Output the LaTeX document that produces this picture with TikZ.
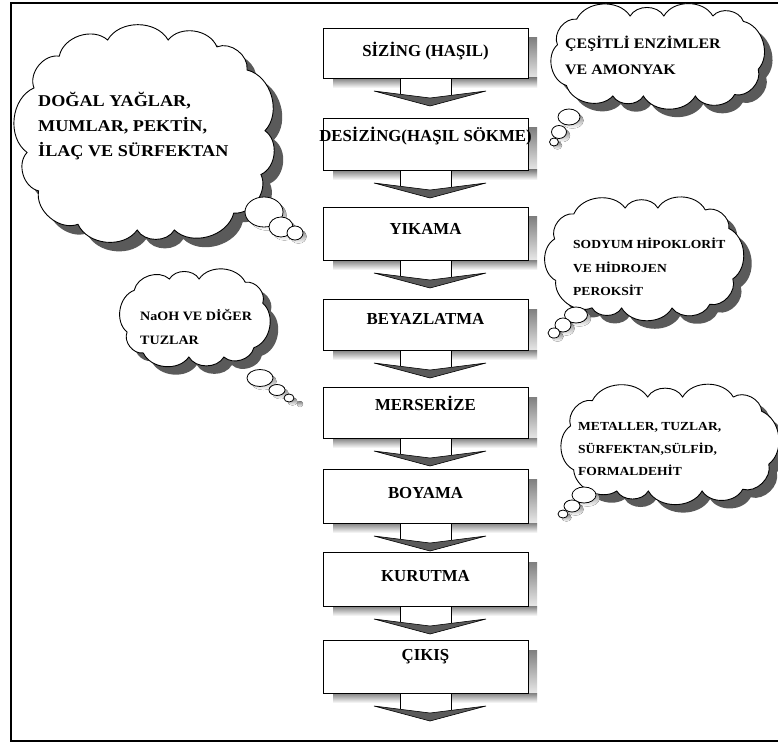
\documentclass[tikz,border=0pt]{standalone}
\usepackage{fontspec}
\setmainfont{Liberation Serif}
\newfontfamily\cloudfont{Liberation Serif}[FakeStretch=1.1]
\definecolor{shade}{HTML}{5A5A5A}
\tikzset{
  boxtext/.style={font=\bfseries\fontsize{16.8}{20}\selectfont, anchor=base, inner sep=0pt},
  procbox/.style={draw=black, line width=1pt, fill=white, minimum width=205pt, inner sep=0pt, anchor=north west},
  cloudline/.style={fill=white, draw=black, line width=0.9pt},
  cloudshadow/.style={fill=shade},
  ctext/.style={anchor=base west, inner sep=0pt},
  bubble/.style={draw=black, line width=0.8pt, fill=white},
  chev/.style={fill=shade, draw=black, line width=0.6pt},
}
% name, top, bottom, baseline, text
\newcommand\procstep[5]{%
  \fill[shade] (528,#2+10) rectangle (537,#3+10);
  \fill[shade] (333,#3) rectangle (400,#3+10);
  \fill[shade] (451,#3) rectangle (537,#3+10);
  \path[chev] (374,#3+13) -- (430,#3+28) -- (486,#3+13) -- (430,#3+20) -- cycle;
  \draw[line width=0.7pt] (400,#3) -- (400,#3+16.3) (451,#3) -- (451,#3+16.6);
  \node (#1box) [procbox, minimum height=#3-#2] at (323,#2) {};
  \node (#1) [boxtext] at (425.5,#4) {#5};
}
% point on rounded rectangle at arc length #1; centre (#2,#3), half sizes #4,#5
\newcommand\cloudpoint[5]{%
  \pgfmathsetmacro\bA{\cH}%
  \pgfmathsetmacro\bB{\bA+\cC}%
  \pgfmathsetmacro\bC{\bB+2*\cV}%
  \pgfmathsetmacro\bD{\bC+\cC}%
  \pgfmathsetmacro\bE{\bD+2*\cH}%
  \pgfmathsetmacro\bF{\bE+\cC}%
  \pgfmathsetmacro\bG{\bF+2*\cV}%
  \pgfmathsetmacro\bH{\bG+\cC}%
  \ifdim #1pt<\bA pt
    \pgfmathsetmacro\px{#2+#1}\pgfmathsetmacro\py{#3-#5}%
  \else\ifdim #1pt<\bB pt
    \pgfmathsetmacro\ph{(#1-\bA)/\cR*180/pi}%
    \pgfmathsetmacro\px{#2+\cH+\cR*sin(\ph)}\pgfmathsetmacro\py{#3-\cV-\cR*cos(\ph)}%
  \else\ifdim #1pt<\bC pt
    \pgfmathsetmacro\px{#2+#4}\pgfmathsetmacro\py{#3-\cV+(#1-\bB)}%
  \else\ifdim #1pt<\bD pt
    \pgfmathsetmacro\ph{(#1-\bC)/\cR*180/pi}%
    \pgfmathsetmacro\px{#2+\cH+\cR*cos(\ph)}\pgfmathsetmacro\py{#3+\cV+\cR*sin(\ph)}%
  \else\ifdim #1pt<\bE pt
    \pgfmathsetmacro\px{#2+\cH-(#1-\bD)}\pgfmathsetmacro\py{#3+#5}%
  \else\ifdim #1pt<\bF pt
    \pgfmathsetmacro\ph{(#1-\bE)/\cR*180/pi}%
    \pgfmathsetmacro\px{#2-\cH-\cR*sin(\ph)}\pgfmathsetmacro\py{#3+\cV+\cR*cos(\ph)}%
  \else\ifdim #1pt<\bG pt
    \pgfmathsetmacro\px{#2-#4}\pgfmathsetmacro\py{#3+\cV-(#1-\bF)}%
  \else\ifdim #1pt<\bH pt
    \pgfmathsetmacro\ph{(#1-\bG)/\cR*180/pi}%
    \pgfmathsetmacro\px{#2-\cH-\cR*cos(\ph)}\pgfmathsetmacro\py{#3-\cV-\cR*sin(\ph)}%
  \else
    \pgfmathsetmacro\px{#2-\cH+(#1-\bH)}\pgfmathsetmacro\py{#3-#5}%
  \fi\fi\fi\fi\fi\fi\fi\fi
}
% name, cx, cy, A, B, N, offset
\newcommand\cloudpts[7]{%
  \pgfmathsetmacro\cR{0.85*min(#4,#5)}%
  \pgfmathsetmacro\cH{#4-\cR}%
  \pgfmathsetmacro\cV{#5-\cR}%
  \pgfmathsetmacro\cC{pi*\cR/2}%
  \pgfmathsetmacro\cP{4*\cH+4*\cV+4*\cC}%
  \foreach \k in {1,...,#6}{%
    \pgfmathsetmacro\cps{mod(\cP*(\k+#7+0.15*sin(\k*137))/#6+10*\cP,\cP)}%
    \cloudpoint{\cps}{#2}{#3}{#4}{#5}%
    \coordinate (#1-\k) at (\px,\py);
  }%
}
% name, N, style
\newcommand\cloudoutline[3]{%
  \path[#3] (#1-1) \foreach \k in {2,...,#2}{ to[bend left=60] (#1-\k) } to[bend left=60] (#1-1);
}
% name, cx, cy, A, B, N, offset, shadow shift
\newcommand\thoughtcloud[8]{%
  \cloudpts{#1s}{#2+#8}{#3+#8}{#4}{#5}{#6}{#7}
  \cloudoutline{#1s}{#6}{cloudshadow}
  \cloudpts{#1}{#2}{#3}{#4}{#5}{#6}{#7}
  \cloudoutline{#1}{#6}{cloudline}
}
\newcommand\bub[4]{%
  \fill[shade] (#1+3.5,#2+3.5) ellipse [x radius=#3pt, y radius=#4pt];
  \path[bubble] (#1,#2) ellipse [x radius=#3pt, y radius=#4pt];
}
\begin{document}
\begin{tikzpicture}[x=1pt,y=-1pt]
\path[use as bounding box] (0,0) rectangle (778,743);
\clip (0,0) rectangle (778,743);
\fill[white] (0,0) rectangle (778,743);
\draw[line width=2.6pt] (800,3) -- (11,3) -- (11,741) -- (800,741);

% process steps
\procstep{s1}{28}{78}{57}{SİZİNG (HAŞIL)}
\procstep{s2}{118}{170}{142}{DESİZİNG(HAŞIL SÖKME)}
\procstep{s3}{207}{260}{234}{YIKAMA}
\procstep{s4}{299}{350}{324}{BEYAZLATMA}
\procstep{s5}{387}{438}{410}{MERSERİZE}
\procstep{s6}{469}{523}{498}{BOYAMA}
\procstep{s7}{552}{606}{581}{KURUTMA}
\procstep{s8}{640}{693}{660}{ÇIKIŞ}

% big left cloud
\thoughtcloud{ca}{146}{135}{119}{95}{14}{0.3}{9}
\bub{264}{212}{19}{15}
\bub{281}{227}{12}{10}
\bub{295}{233}{8}{7}
\node (c1a) [ctext, font=\cloudfont\bfseries\fontsize{16.5}{20}\selectfont] at (38,107) {DOĞAL YAĞLAR,};
\node (c1b) [ctext, font=\cloudfont\bfseries\fontsize{16.5}{20}\selectfont] at (38,132) {MUMLAR, PEKTİN,};
\node (c1c) [ctext, font=\cloudfont\bfseries\fontsize{16.5}{20}\selectfont] at (38,157) {İLAÇ VE SÜRFEKTAN};

% top right cloud
\thoughtcloud{cb}{658}{56}{101}{40}{12}{0.2}{8}
\bub{569}{117}{11}{8}
\bub{559}{132}{7.5}{6.5}
\bub{554}{142}{4.5}{4}
\node (c2a) [ctext, font=\cloudfont\bfseries\fontsize{14.5}{18}\selectfont] at (565,49) {ÇEŞİTLİ ENZİMLER};
\node (c2b) [ctext, font=\cloudfont\bfseries\fontsize{14.5}{18}\selectfont] at (565,75) {VE AMONYAK};

% sodyum cloud
\thoughtcloud{cc}{644}{258}{91}{50}{12}{0.4}{8}
\bub{576}{315}{11.5}{8}
\bub{563}{325}{8}{7}
\bub{554}{333}{6}{5}
\node (c3a) [ctext, font=\cloudfont\bfseries\fontsize{12.3}{16}\selectfont] at (573,248) {SODYUM HİPOKLORİT};
\node (c3b) [ctext, font=\cloudfont\bfseries\fontsize{12.3}{16}\selectfont] at (573,272) {VE HİDROJEN};
\node (c3c) [ctext, font=\cloudfont\bfseries\fontsize{12.3}{16}\selectfont] at (573,295) {PEROKSİT};

% NaOH cloud
\thoughtcloud{cd}{195}{318}{69}{39}{10}{0.25}{8}
\bub{260}{378}{13}{8.5}
\bub{277}{390}{8}{5.5}
\bub{289}{398}{5}{4}
\fill[shade] (300,404) circle [radius=3pt];
\node (c4a) [ctext, font=\cloudfont\bfseries\fontsize{12.8}{16}\selectfont] at (140,320) {NaOH VE DİĞER};
\node (c4b) [ctext, font=\cloudfont\bfseries\fontsize{12.8}{16}\selectfont] at (140,344) {TUZLAR};

% metaller cloud
\thoughtcloud{ce}{670}{444}{101}{47}{12}{0.35}{8}
\bub{584}{495}{12}{8}
\bub{572}{506}{8}{6}
\bub{563}{514}{5}{4}
\node (c5a) [ctext, font=\cloudfont\bfseries\fontsize{12.3}{16}\selectfont] at (578,430) {METALLER, TUZLAR,};
\node (c5b) [ctext, font=\cloudfont\bfseries\fontsize{12.3}{16}\selectfont] at (578,453) {SÜRFEKTAN,SÜLFİD,};
\node (c5c) [ctext, font=\cloudfont\bfseries\fontsize{12.3}{16}\selectfont] at (578,475) {FORMALDEHİT};
\end{tikzpicture}
\end{document}
